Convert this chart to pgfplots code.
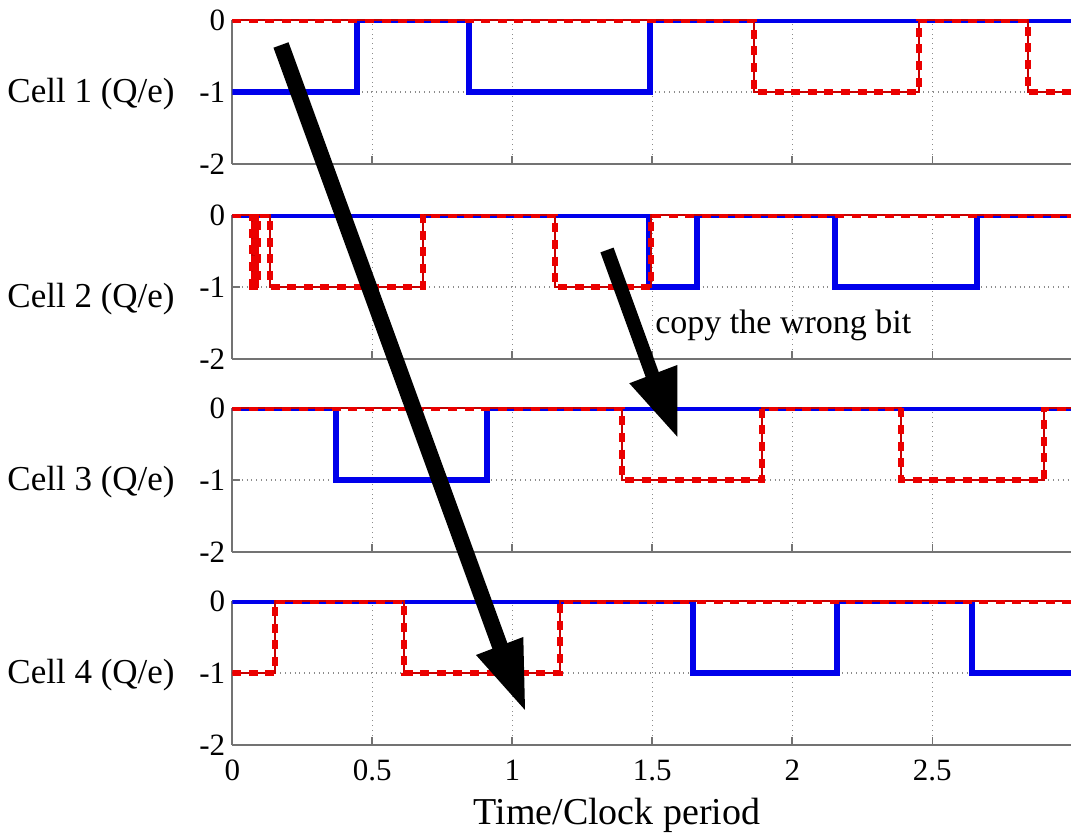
\documentclass[border=0pt]{standalone}
\usepackage{pgfplots}
\pgfplotsset{compat=1.18}
\usepackage{fontspec}
\setmainfont{Liberation Serif}
\definecolor{mblue}{RGB}{0,0,235}
\definecolor{mred}{RGB}{235,0,0}
\pgfplotsset{
 cellax/.style={
  scale only axis, width=420pt, height=72pt,
  xmin=0, xmax=3, ymin=-2, ymax=0,
  axis x line*=bottom, axis y line*=left,
  axis line style={black!55, line width=0.8pt},
  xtick={0,0.5,1,1.5,2,2.5}, ytick={-2,-1,0}, yticklabels={-2,-1,0},
  tick align=inside, major tick length=4pt, tick style={black!55, line width=0.8pt},
  grid=major, major grid style={dotted, black!45, line width=0.6pt},
  ticklabel style={font=\fontsize{15.5}{15.5}\selectfont},
  xticklabel style={yshift=-4pt},
  /pgf/number format/assume math mode=true,
  ylabel style={rotate=-90, anchor=base east, inner sep=0pt, font=\fontsize{17.5}{17.5}\selectfont},
 },
 bl/.style={mblue, line width=3pt, line join=miter},
 rd/.style={mred, line width=3pt, dash pattern=on 4.5pt off 3.8pt},
 rt/.style={mred!85!black, line width=1pt},
}
\begin{document}
\begin{tikzpicture}
\path[use as bounding box] (-116.15pt,-44pt) rectangle (419.35pt,372.5pt);
% Cell 1
\begin{axis}[cellax, at={(0pt,290.5pt)}, xticklabels={},
  ylabel={Cell 1 (Q/e)}, ylabel style={at={(axis description cs:-0.0682,0.424)}}]
\addplot[bl] coordinates {(0,-1)(0.444,-1)(0.444,0)(0.845,0)(0.845,-1)(1.493,-1)(1.493,0)(3,0)};
\addplot[rt] coordinates {(0,0)(1.862,0)(1.862,-1)(2.451,-1)(2.451,0)(2.841,0)(2.841,-1)(3,-1)};
\addplot[rd] coordinates {(0,0)(1.862,0)(1.862,-1)(2.451,-1)(2.451,0)(2.841,0)(2.841,-1)(3,-1)};
\end{axis}
% Cell 2
\begin{axis}[cellax, at={(0pt,193pt)}, xticklabels={},
  ylabel={Cell 2 (Q/e)}, ylabel style={at={(axis description cs:-0.0682,0.361)}}]
\addplot[bl] coordinates {(0,0)(1.490,0)(1.490,-1)(1.660,-1)(1.660,0)(2.151,0)(2.151,-1)(2.660,-1)(2.660,0)(3,0)};
\addplot[rt] coordinates {(0,0)(0.069,0)(0.069,-1)(0.078,-1)(0.078,0)(0.086,0)(0.086,-1)(0.092,-1)(0.092,0)(0.135,0)(0.135,-1)(0.680,-1)(0.680,0)(1.154,0)(1.154,-1)(1.497,-1)(1.497,0)(3,0)};
\addplot[rd] coordinates {(0,0)(0.069,0)(0.069,-1)(0.078,-1)(0.078,0)(0.086,0)(0.086,-1)(0.092,-1)(0.092,0)(0.135,0)(0.135,-1)(0.680,-1)(0.680,0)(1.154,0)(1.154,-1)(1.497,-1)(1.497,0)(3,0)};
\end{axis}
% Cell 3
\begin{axis}[cellax, at={(0pt,96.5pt)}, xticklabels={},
  ylabel={Cell 3 (Q/e)}, ylabel style={at={(axis description cs:-0.0682,0.424)}}]
\addplot[bl] coordinates {(0,0)(0.369,0)(0.369,-1)(0.908,-1)(0.908,0)(3,0)};
\addplot[rt] coordinates {(0,0)(1.393,0)(1.393,-1)(1.892,-1)(1.892,0)(2.389,0)(2.389,-1)(2.900,-1)(2.900,0)(3,0)};
\addplot[rd] coordinates {(0,0)(1.393,0)(1.393,-1)(1.892,-1)(1.892,0)(2.389,0)(2.389,-1)(2.900,-1)(2.900,0)(3,0)};
\end{axis}
% Cell 4
\begin{axis}[cellax, at={(0pt,0pt)}, xticklabels={0,0.5,1,1.5,2,2.5},
  ylabel={Cell 4 (Q/e)}, ylabel style={at={(axis description cs:-0.0682,0.43)}},
  xlabel={Time/Clock period},
  xlabel style={font=\fontsize{19}{19}\selectfont, anchor=center, inner sep=0pt, at={(axis description cs:0.458,0)}, yshift=-35pt}]
\addplot[bl] coordinates {(0,0)(1.645,0)(1.645,-1)(2.159,-1)(2.159,0)(2.642,0)(2.642,-1)(3,-1)};
\addplot[rt] coordinates {(0,-1)(0.152,-1)(0.152,0)(0.613,0)(0.613,-1)(1.169,-1)(1.169,0)(3,0)};
\addplot[rd] coordinates {(0,-1)(0.152,-1)(0.152,0)(0.613,0)(0.613,-1)(1.169,-1)(1.169,0)(3,0)};
\end{axis}
% annotations
\draw[black, line width=8pt] (24.35pt,350pt) -- (136.35pt,42.5pt);
\fill[black] (121.85pt,45pt) -- (145.5pt,54pt) -- (146.35pt,17.5pt) -- cycle;
\draw[black, line width=7pt] (187.35pt,247.5pt) -- (211.85pt,180pt);
\fill[black] (198.5pt,180.85pt) -- (222.5pt,190pt) -- (222.5pt,154.15pt) -- cycle;
\node[anchor=base west, inner sep=0pt, font=\fontsize{17}{17}\selectfont] at (211.35pt,205.85pt) {copy the wrong bit};
\end{tikzpicture}
\end{document}
